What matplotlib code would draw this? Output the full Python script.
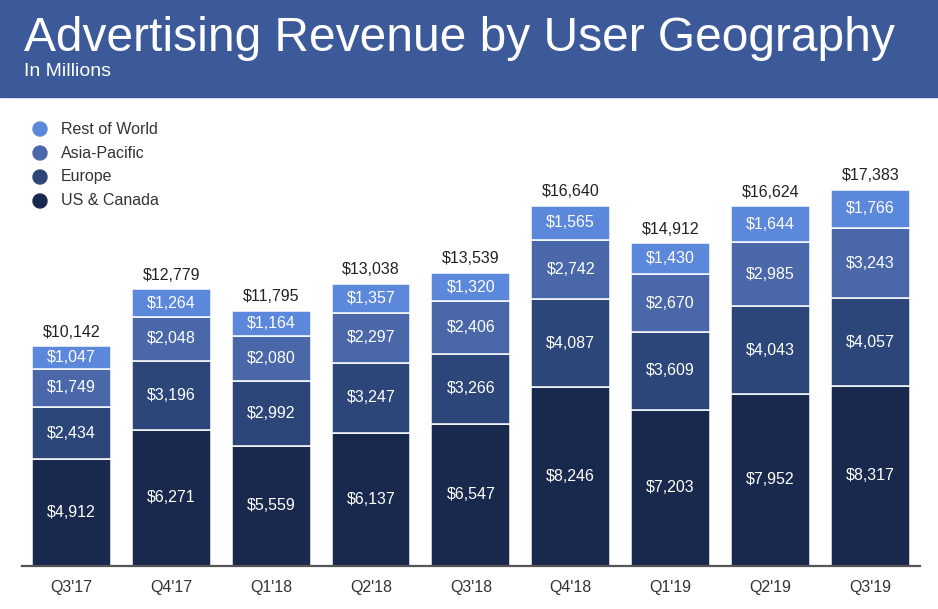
import numpy as np
import matplotlib
matplotlib.use("Agg")
import matplotlib.pyplot as plt
from matplotlib.patches import Rectangle

plt.rcParams["font.family"] = ["Liberation Sans", "DejaVu Sans"]

quarters = ["Q3'17", "Q4'17", "Q1'18", "Q2'18", "Q3'18", "Q4'18", "Q1'19", "Q2'19", "Q3'19"]
us_canada = [4912, 6271, 5559, 6137, 6547, 8246, 7203, 7952, 8317]
europe = [2434, 3196, 2992, 3247, 3266, 4087, 3609, 4043, 4057]
asia_pacific = [1749, 2048, 2080, 2297, 2406, 2742, 2670, 2985, 3243]
rest_of_world = [1047, 1264, 1164, 1357, 1320, 1565, 1430, 1644, 1766]
totals = [10142, 12779, 11795, 13038, 13539, 16640, 14912, 16624, 17383]

series = [
    ("US & Canada", us_canada, "#19294d"),
    ("Europe", europe, "#2c4679"),
    ("Asia-Pacific", asia_pacific, "#4a67aa"),
    ("Rest of World", rest_of_world, "#5c88dc"),
]

W, H = 938, 609
fig = plt.figure(figsize=(W / 100, H / 100), dpi=100)

# header banner
fig.patches.append(Rectangle((0, 1 - 97 / H), 1, 97 / H, transform=fig.transFigure,
                             color="#3c5a99", zorder=0))
fig.text(24 / W, 1 - 51 / H, "Advertising Revenue by User Geography", color="white",
         fontsize=34.5, va="baseline", ha="left")
fig.text(24 / W, 1 - 76 / H, "In Millions", color="white", fontsize=14,
         va="baseline", ha="left")

ax = fig.add_axes([22 / W, (H - 565.7) / H, 898 / W, 389.2 / H])
x = np.arange(len(quarters))
bottom = np.zeros(len(quarters))
for name, vals, col in series:
    vals = np.array(vals)
    ax.bar(x, vals, width=0.79, bottom=bottom, color=col, edgecolor="white",
           linewidth=1.1, zorder=2)
    for xi, b, v in zip(x, bottom, vals):
        ax.text(xi, b + v / 2, f"${v:,}", ha="center", va="center", color="white",
                fontsize=11.5, zorder=3)
    bottom += vals

for xi, t in zip(x, totals):
    ax.text(xi, t + 300, f"${t:,}", ha="center", va="bottom", color="#222222", fontsize=11.5)

ax.set_xlim(-0.496, 8.498)
ax.set_ylim(0, 18000)
ax.set_xticks(x)
ax.set_xticklabels(quarters, fontsize=11.5, color="#333333")
ax.tick_params(axis="x", length=0, pad=10)
ax.set_yticks([])
for s in ["left", "right", "top"]:
    ax.spines[s].set_visible(False)
ax.spines["bottom"].set_color("#555555")
ax.spines["bottom"].set_linewidth(1.6)
ax.spines["bottom"].set_zorder(4)

# legend (top-down order)
for i, (name, vals, col) in enumerate(reversed(series)):
    y = 1 - (129 + 24 * i) / H
    fig.patches.append(matplotlib.patches.Ellipse((40 / W, y), 14 / W, 14 / H,
                                                  transform=fig.transFigure, color=col))
    fig.text(61 / W, y, name, color="#333333", fontsize=11.5, va="center", ha="left")

fig.savefig("out.png", dpi=100)
